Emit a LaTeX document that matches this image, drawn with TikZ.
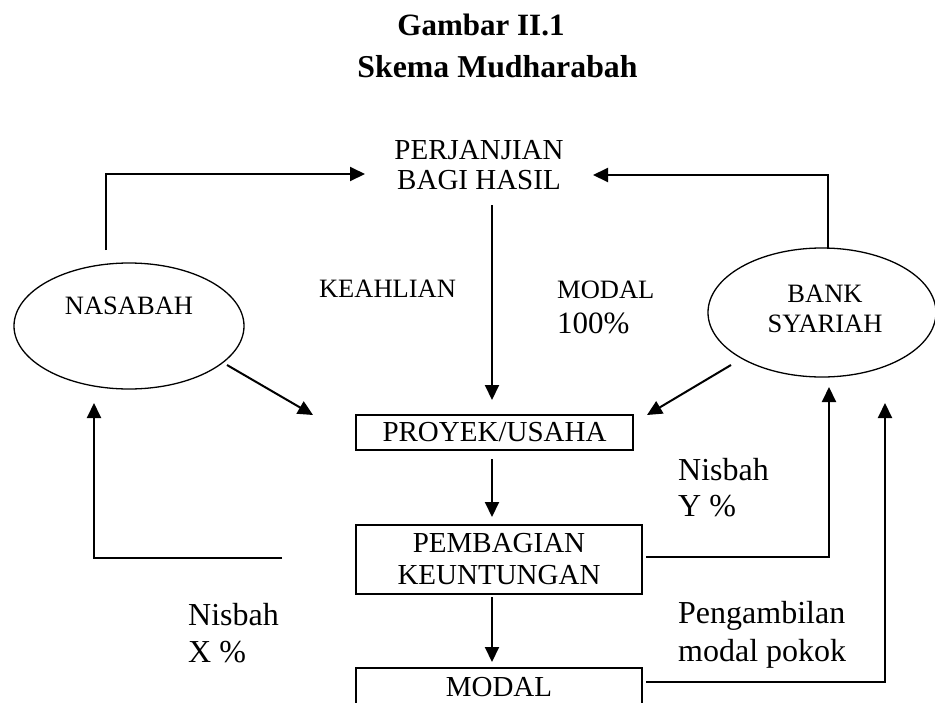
\documentclass[tikz,border=0pt]{standalone}
\usepackage{fontspec}
\setmainfont{Liberation Serif}
\usetikzlibrary{arrows.meta,shapes.geometric}
\begin{document}
\begin{tikzpicture}[x=1pt,y=-1pt,
  arr/.style={line width=2pt,-{Triangle[length=15pt,width=14pt]}},
  ln/.style={line width=2pt},
  boxnode/.style={draw,line width=1.8pt,inner sep=0pt,font=\fontsize{29}{32}\selectfont,align=center},
  capsA/.style={font=\fontsize{29}{30}\selectfont,align=center,inner sep=0pt},
  capsB/.style={font=\fontsize{26.5}{30}\selectfont,align=center,inner sep=0pt},
  big/.style={font=\fontsize{32}{36}\selectfont,inner sep=0pt,anchor=base west},
  ttl/.style={font=\bfseries\fontsize{31}{36}\selectfont,inner sep=0pt,anchor=base},
  ell/.style={draw,ellipse,line width=1.3pt,inner sep=0pt}
]
\useasboundingbox (0,0) rectangle (935,702);
\clip (0,0) rectangle (935,702);
\fill[white] (0,0) rectangle (935,702);

% title
\node[ttl] (t1) at (481,35) {Gambar II.1};
\node[ttl,font=\bfseries\fontsize{31.8}{36}\selectfont] (t2) at (497.5,77.5) {Skema Mudharabah};

% top text
\node[capsA] (perj) at (479,165) {PERJANJIAN\\BAGI HASIL};

% ellipses
\node[ell,minimum width=230pt,minimum height=126pt] (nas) at (129,326) {};
\node[capsB] (nasT) at (129,305.5) {NASABAH};
\node[ell,minimum width=228pt,minimum height=129pt] (bank) at (822,312.5) {};
\node[capsB] (bankT) at (825,308.5) {BANK\\SYARIAH};

% middle labels
\node[capsB] (keah) at (387.5,289) {KEAHLIAN};
\node[font=\fontsize{26.5}{30}\selectfont,inner sep=0pt,anchor=base west] (mod1) at (557,298) {MODAL};
\node[font=\fontsize{31}{36}\selectfont,inner sep=0pt,anchor=base west] (mod2) at (557,333) {100\%};

% boxes
\node[boxnode,minimum width=277pt,minimum height=35pt] (proj) at (494.5,432.5) {PROYEK/USAHA};
\node[boxnode,minimum width=286pt,minimum height=69pt] (pemb) at (499,559.5) {PEMBAGIAN\\KEUNTUNGAN};
\node[boxnode,minimum width=286pt,minimum height=38pt] (modal) at (499,687) {MODAL};

% side labels
\node[big] (ny1) at (678,480) {Nisbah};
\node[big] (ny2) at (678,516) {Y \%};
\node[big] (nx1) at (188,625) {Nisbah};
\node[big] (nx2) at (188,662) {X \%};
\node[big] (pg1) at (678,623) {Pengambilan};
\node[big] (pg2) at (678,661) {modal pokok};

% connector end points
\coordinate (nasUp) at (106,250);
\coordinate (perjL) at (365,174);
\coordinate (bankUp) at (828,249);
\coordinate (perjR) at (593,175);
\coordinate (perjD) at (492,205);
\coordinate (projU) at (492,400);
\coordinate (nasD) at (227,365);
\coordinate (projL) at (313,415);
\coordinate (bankD) at (731,365);
\coordinate (projR) at (647,415);
\coordinate (projD) at (492,459);
\coordinate (pembU) at (492,517);
\coordinate (pembD) at (492,597);
\coordinate (modalU) at (492,662);
\coordinate (pembL) at (282,558);
\coordinate (nasB) at (94,403);
\coordinate (pembR) at (646,557);
\coordinate (bankB1) at (829,387);
\coordinate (modalR) at (646,682);
\coordinate (bankB2) at (885,403);

\draw[arr] (nasUp) |- (perjL);
\draw[arr] (bankUp) |- (perjR);
\draw[arr] (perjD) -- (projU);
\draw[arr] (nasD) -- (projL);
\draw[arr] (bankD) -- (projR);
\draw[arr] (projD) -- (pembU);
\draw[arr] (pembD) -- (modalU);
\draw[arr] (pembL) -| (nasB);
\draw[arr] (pembR) -| (bankB1);
\draw[arr] (modalR) -| (bankB2);
\end{tikzpicture}
\end{document}
